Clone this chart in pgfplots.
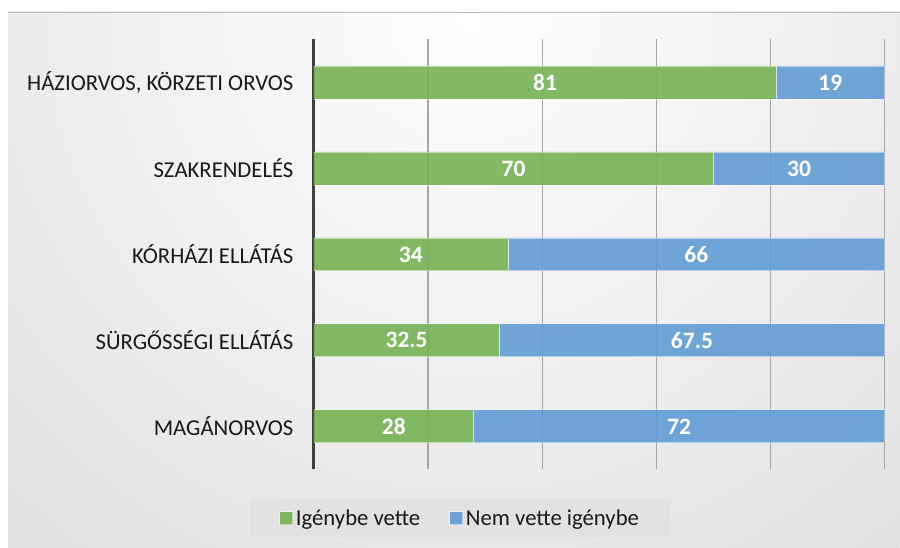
\documentclass[border=0pt]{standalone}
\usepackage{pgfplots}
\usepackage{pgfplotstable}
\pgfplotsset{compat=1.18}
\usepackage{fontspec}
\setmainfont{Carlito}
\definecolor{cgreen}{HTML}{77B254}
\definecolor{cblue}{HTML}{629CD5}
\definecolor{axisdark}{HTML}{404040}
\definecolor{bgout}{RGB}{190,190,190}
\definecolor{legbg}{RGB}{226,226,226}
\pgfplotstableread{
y g b
0 81 19
1 70 30
2 34 66
3 32.5 67.5
4 28 72
}\datatable
\begin{document}
\begin{tikzpicture}
\fill[white] (0pt,0pt) rectangle (900pt,-548pt);
\begin{scope}
\clip (8pt,-12pt) rectangle (900pt,-548pt);
\shade[inner color=white, outer color=bgout] (470pt,-15pt) circle (1500pt);
\end{scope}
\draw[black!25, line width=0.8pt] (8pt,-12pt) -- (900pt,-12pt);
\begin{axis}[
  at={(314pt,-469.5pt)}, anchor=south west,
  scale only axis, width=571pt, height=430pt,
  xbar stacked, bar width=33pt,
  xmin=0, xmax=100, ymin=-0.5, ymax=4.5, y dir=reverse,
  xtick={0,20,...,100}, xticklabels={},
  ytick={0,1,2,3,4},
  yticklabels={{HÁZIORVOS, KÖRZETI ORVOS},{SZAKRENDELÉS},{KÓRHÁZI ELLÁTÁS},{SÜRGŐSSÉGI ELLÁTÁS},{MAGÁNORVOS}},
  yticklabel style={font=\fontsize{22.7}{27}\selectfont, text=black!90, xshift=-17pt},
  major tick length=0pt,
  xmajorgrids, grid style={gray!70, line width=1.2pt},
  axis lines*=left,
  x axis line style={draw=none},
  y axis line style={draw=axisdark, line width=3pt, -},
  legend style={at={(0.257,-0.114)}, anchor=center, fill=legbg, draw=none,
    legend columns=2, font=\fontsize{22.7}{27}\selectfont, text=black!90,
    inner xsep=29pt, inner ysep=8.5pt,
    nodes={inner xsep=3pt, inner ysep=2pt},
    /tikz/every even column/.append style={column sep=26pt}},
  legend image code/.code={\fill[#1, draw=white, draw opacity=0.5] (0pt,-6.5pt) rectangle (13pt,6.5pt);},
]
\addplot[fill=cgreen, fill opacity=0.9, draw=white, draw opacity=0.5, line width=0.8pt] table[x=g,y=y]{\datatable};
\addlegendentry{Igénybe vette}
\addplot[fill=cblue, fill opacity=0.9, draw=white, draw opacity=0.5, line width=0.8pt] table[x=b,y=y]{\datatable};
\addlegendentry{Nem vette igénybe}
\end{axis}
\begin{axis}[
  at={(314pt,-469.5pt)}, anchor=south west,
  scale only axis, width=571pt, height=430pt,
  xmin=0, xmax=100, ymin=-0.5, ymax=4.5, y dir=reverse,
  hide axis,
  nodes near coords, point meta=explicit symbolic,
  nodes near coords style={font=\fontsize{23.5}{28}\selectfont\bfseries, text=white, anchor=center},
]
\addplot[draw=none, mark=none] table[x expr=\thisrow{g}/2, y=y, meta=g]{\datatable};
\addplot[draw=none, mark=none] table[x expr=\thisrow{g}+\thisrow{b}/2, y=y, meta=b]{\datatable};
\end{axis}
\end{tikzpicture}
\end{document}
